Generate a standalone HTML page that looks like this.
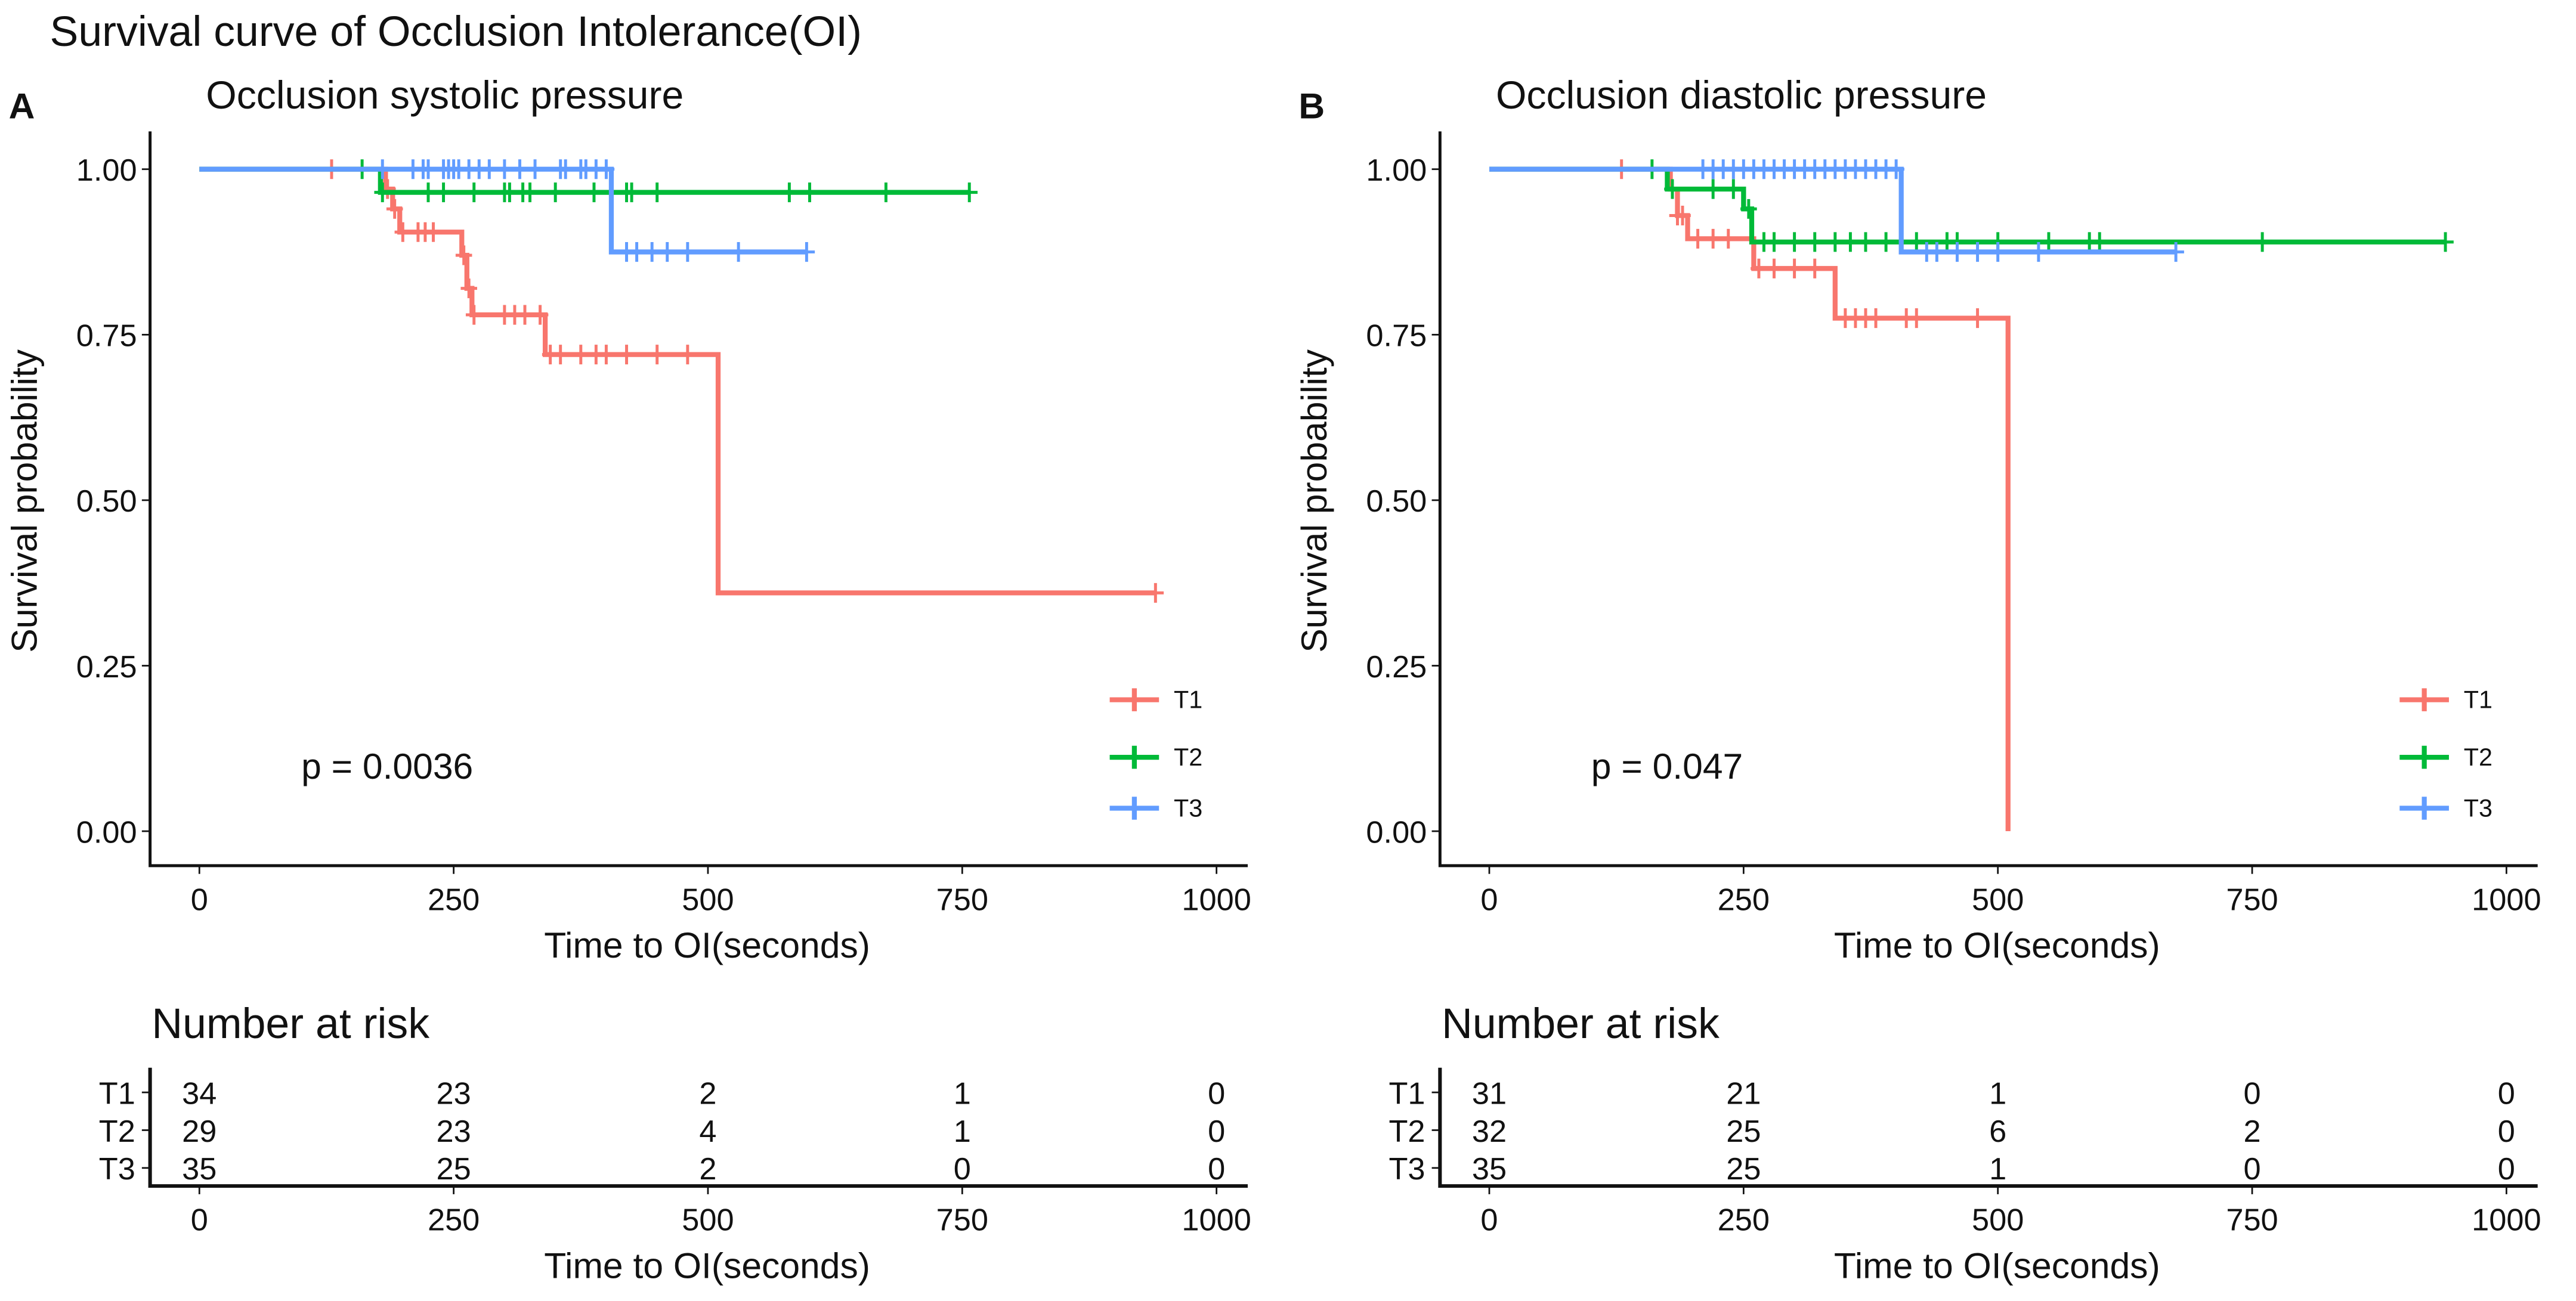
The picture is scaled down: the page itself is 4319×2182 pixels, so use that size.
<!DOCTYPE html>
<html><head><meta charset="utf-8"><style>html,body{margin:0;padding:0;background:#fff}svg{display:block}text{font-family:"Liberation Sans",sans-serif;fill:#111}</style></head>
<body>
<svg id="fig" width="4319" height="2182" viewBox="0 0 1567 792" xmlns="http://www.w3.org/2000/svg">
<text x="30" y="28" font-size="26">Survival curve of Occlusion Intolerance(OI)</text>
</svg>
<script>
// Panel A data
const groups = ["T1","T2","T3"];
const colors = ["#F8766D","#00BA38","#619CFF"];
const xTicks = [0,250,500,750,1000];
const yTicks = [0,0.25,0.5,0.75,1];
const yTickLabels = ["0.00","0.25","0.50","0.75","1.00"];
const aStepTimes = [[0,183,190,197,258,263,268,340,510,940],[0,178,757],[0,405,597]];
const aStepSurv = [[1,0.97,0.94,0.905,0.87,0.82,0.78,0.72,0.36,0.36],[1,0.965,0.965],[1,0.875,0.875]];
const aCensor = [[130,185,192,200,215,222,230,260,265,270,300,310,320,335,345,355,375,390,400,420,450,480,940],
 [160,180,225,240,270,300,305,318,325,350,388,420,425,450,580,600,675,757],
 [180,210,220,225,240,245,250,255,265,275,285,300,315,330,355,360,375,380,390,400,420,430,445,460,480,530,597]];
const aRisk = [[34,23,2,1,0],[29,23,4,1,0],[35,25,2,0,0]];
// Panel B data
const bStepTimes = [[0,178,185,195,260,340,510,510],[0,175,250,258,940],[0,405,675]];
const bStepSurv = [[1,0.97,0.93,0.895,0.85,0.775,0.775,0],[1,0.97,0.94,0.89,0.89],[1,0.875,0.875]];
const bCensor = [[130,185,190,205,220,235,265,280,300,320,350,360,370,380,410,420,480],
 [160,180,220,240,255,270,280,300,320,340,355,370,390,420,450,460,500,550,590,600,760,940],
 [210,220,230,240,250,260,270,280,290,300,310,320,330,340,350,360,370,380,390,400,430,440,460,480,500,540,675]];
const bRisk = [[31,21,1,0,0],[32,25,6,2,0],[35,25,1,0,0]];

const NS="http://www.w3.org/2000/svg";
const svg=document.getElementById('fig');
function mk(tag,attrs,parent,txt){const e=document.createElementNS(NS,tag);for(const k in attrs)e.setAttribute(k,attrs[k]);if(txt!==undefined)e.textContent=txt;(parent||svg).appendChild(e);return e;}

function panel(off,letter,sub,pval,stepT,stepS,cens,risk,key){
  const g=mk('g',{});
  
  
  const X=t=>off+121+t*0.619, Y=s=>506-s*403;
  const L=mk('text',{x:off+5,y:72,'font-size':22,'font-weight':'bold'},g,letter);
  
  const S=mk('text',{x:off+125,y:66,'font-size':24},g,sub);
  
  const ax=mk('path',{d:`M${off+91},80V527H${off+759}`,stroke:'#111','stroke-width':1.8,fill:'none'},g);
  
  yTicks.forEach((v,i)=>{mk('line',{x1:off+86,x2:off+91,y1:Y(v),y2:Y(v),stroke:'#111'},g);
    const t=mk('text',{x:off+83,y:Y(v)+7,'font-size':19,'text-anchor':'end'},g,yTickLabels[i]);
    });
  xTicks.forEach(v=>{mk('line',{x1:X(v),x2:X(v),y1:527,y2:532,stroke:'#111'},g);
    const t=mk('text',{x:X(v),y:554,'font-size':19,'text-anchor':'middle'},g,v);
    });
  const yt=mk('text',{transform:`translate(${off+22},305) rotate(-90)`,'font-size':22,'text-anchor':'middle'},g,'Survival probability');
  
  const xt=mk('text',{x:off+430,y:583,'font-size':22,'text-anchor':'middle'},g,'Time to OI(seconds)');
  
  groups.forEach((gn,i)=>{
    let d=`M${X(stepT[i][0])},${Y(stepS[i][0])}`;
    for(let k=1;k<stepT[i].length;k++){d+=`H${X(stepT[i][k])}V${Y(stepS[i][k])}`;}
    const p=mk('path',{d,stroke:colors[i],'stroke-width':3,fill:'none'},g);
    
    cens[i].forEach(t=>{let s=1;for(let k=0;k<stepT[i].length;k++){if(stepT[i][k]<=t)s=stepS[i][k];}
      if(t>=stepT[i][stepT[i].length-1])s=stepS[i][stepS[i].length-1];
      const c=mk('path',{d:`M${X(t)-5},${Y(s)}h10M${X(t)},${Y(s)-6}v12`,stroke:colors[i],'stroke-width':1.8},g);
      });
    const ly=[426,461,492][i];
    const lm=mk('path',{d:`M${off+675},${ly}h30M${off+690},${ly-7}v14`,stroke:colors[i],'stroke-width':3},g);
    
    const lt=mk('text',{x:off+714,y:ly+5,'font-size':15},g,gn);
    
  });
  const pv=mk('text',{x:off+183,y:474,'font-size':22},g,pval);
  
  // risk table
  const rt=mk('text',{x:off+92,y:632,'font-size':26},g,'Number at risk');
  
  mk('path',{d:`M${off+91},650V722H${off+759}`,stroke:'#111','stroke-width':2.2,fill:'none'},g);
  groups.forEach((gn,i)=>{const ry=[665,688,711][i];
    const lab=mk('text',{x:off+82,y:ry+7,'font-size':19,'text-anchor':'end'},g,gn);
    
    mk('line',{x1:off+86,x2:off+91,y1:ry,y2:ry,stroke:'#111'},g);
    risk[i].forEach((n,j)=>{const c=mk('text',{x:X(xTicks[j]),y:ry+7,'font-size':19,'text-anchor':'middle'},g,n);
      });
  });
  xTicks.forEach(v=>{mk('line',{x1:X(v),x2:X(v),y1:722,y2:727,stroke:'#111'},g);
    const t=mk('text',{x:X(v),y:749,'font-size':19,'text-anchor':'middle'},g,v);
    });
  const x2=mk('text',{x:off+430,y:778,'font-size':22,'text-anchor':'middle'},g,'Time to OI(seconds)');
  
}
panel(0,'A','Occlusion systolic pressure','p = 0.0036',aStepTimes,aStepSurv,aCensor,aRisk,'a');
panel(785,'B','Occlusion diastolic pressure','p = 0.047',bStepTimes,bStepSurv,bCensor,bRisk,'b');
</script>
</body></html>
